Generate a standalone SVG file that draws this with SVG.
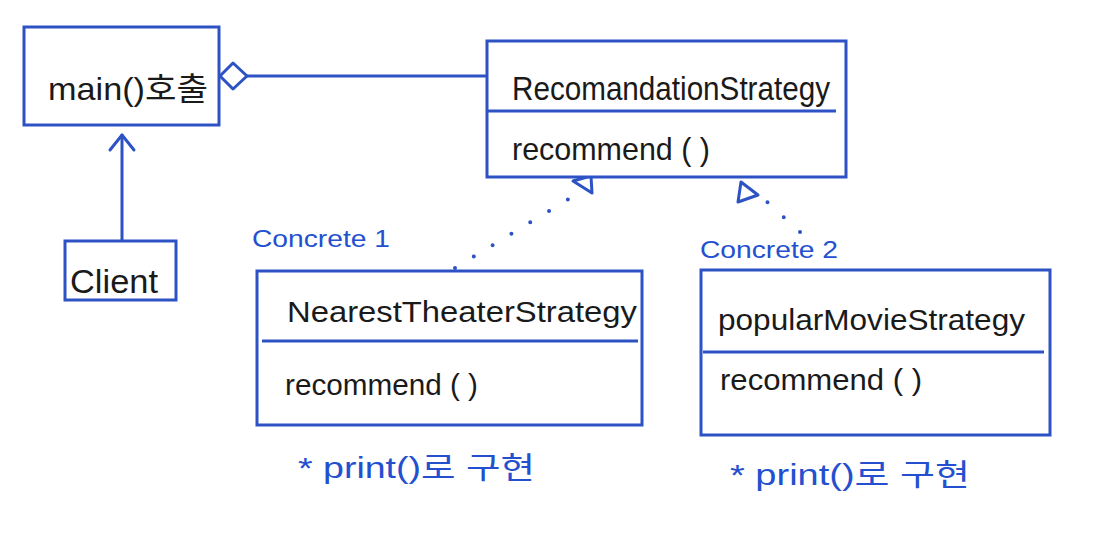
<svg xmlns="http://www.w3.org/2000/svg" width="1105" height="535" viewBox="0 0 1105 535">
<style>
.box{fill:#fff;stroke:#2d52c4;stroke-width:3}
.div{stroke:#2d52c4;stroke-width:3}
.t{font-family:"Liberation Sans","Noto Sans CJK KR",sans-serif;fill:#1a1a1a}
.b{font-family:"Liberation Sans","Noto Sans CJK KR",sans-serif;fill:#2450d0}
.ln{stroke:#2d52c4;stroke-width:3;fill:none;stroke-linecap:round;stroke-linejoin:round}
.dot{stroke:#2d52c4;stroke-width:4;fill:none;stroke-linecap:round;stroke-dasharray:0 22}
</style>
<rect width="1105" height="535" fill="#fff"/>
<g id="connectors">
<polyline class="ln" points="247,76 487,76"/>
<polygon class="ln" fill="#fff" points="220,76 233,63 247,76 233,89"/>
<line class="ln" x1="122" y1="240" x2="122" y2="135"/>
<polyline class="ln" points="110,150 122,135 134,150"/>
<line class="dot" x1="455" y1="268" x2="572" y2="197"/>
<polygon class="ln" fill="none" points="573,181 591,176 592,193"/>
<line class="dot" x1="800" y1="232" x2="766" y2="201"/>
<polygon class="ln" fill="none" points="741,182 738,202 758,195"/>
</g>
<g id="main">
<rect class="box" x="24" y="27" width="195" height="98"/>
<text class="t" x="48" y="100" font-size="32" textLength="160" lengthAdjust="spacingAndGlyphs">main()호출</text>
</g>
<g id="strategy">
<rect class="box" x="487" y="41" width="359" height="136"/>
<line class="div" x1="487" y1="111" x2="836" y2="111"/>
<text class="t" x="512" y="100" font-size="34" textLength="318" lengthAdjust="spacingAndGlyphs">RecomandationStrategy</text>
<text class="t" x="512" y="160" font-size="32" textLength="198" lengthAdjust="spacingAndGlyphs">recommend ( )</text>
</g>
<g id="client">
<rect class="box" x="65" y="241" width="111" height="59"/>
<text class="t" x="70" y="293" font-size="34" textLength="88" lengthAdjust="spacingAndGlyphs">Client</text>
</g>
<g id="nearest">
<text class="b" x="252" y="247" font-size="24" textLength="138" lengthAdjust="spacingAndGlyphs">Concrete 1</text>
<rect class="box" x="257" y="271" width="385" height="154"/>
<line class="div" x1="262" y1="341" x2="638" y2="341"/>
<text class="t" x="287" y="322" font-size="30" textLength="350" lengthAdjust="spacingAndGlyphs">NearestTheaterStrategy</text>
<text class="t" x="285" y="395" font-size="30" textLength="193" lengthAdjust="spacingAndGlyphs">recommend ( )</text>
<text class="b" x="298" y="478" font-size="30" textLength="237" lengthAdjust="spacingAndGlyphs">* print()로  구현</text>
</g>
<g id="popular">
<text class="b" x="700" y="258" font-size="24" textLength="138" lengthAdjust="spacingAndGlyphs">Concrete 2</text>
<rect class="box" x="701" y="270" width="349" height="165"/>
<line class="div" x1="703" y1="352" x2="1044" y2="352"/>
<text class="t" x="718" y="330" font-size="30" textLength="307" lengthAdjust="spacingAndGlyphs">popularMovieStrategy</text>
<text class="t" x="720" y="390" font-size="30" textLength="202" lengthAdjust="spacingAndGlyphs">recommend ( )</text>
<text class="b" x="730" y="485" font-size="30" textLength="240" lengthAdjust="spacingAndGlyphs">* print()로  구현</text>
</g>
</svg>
